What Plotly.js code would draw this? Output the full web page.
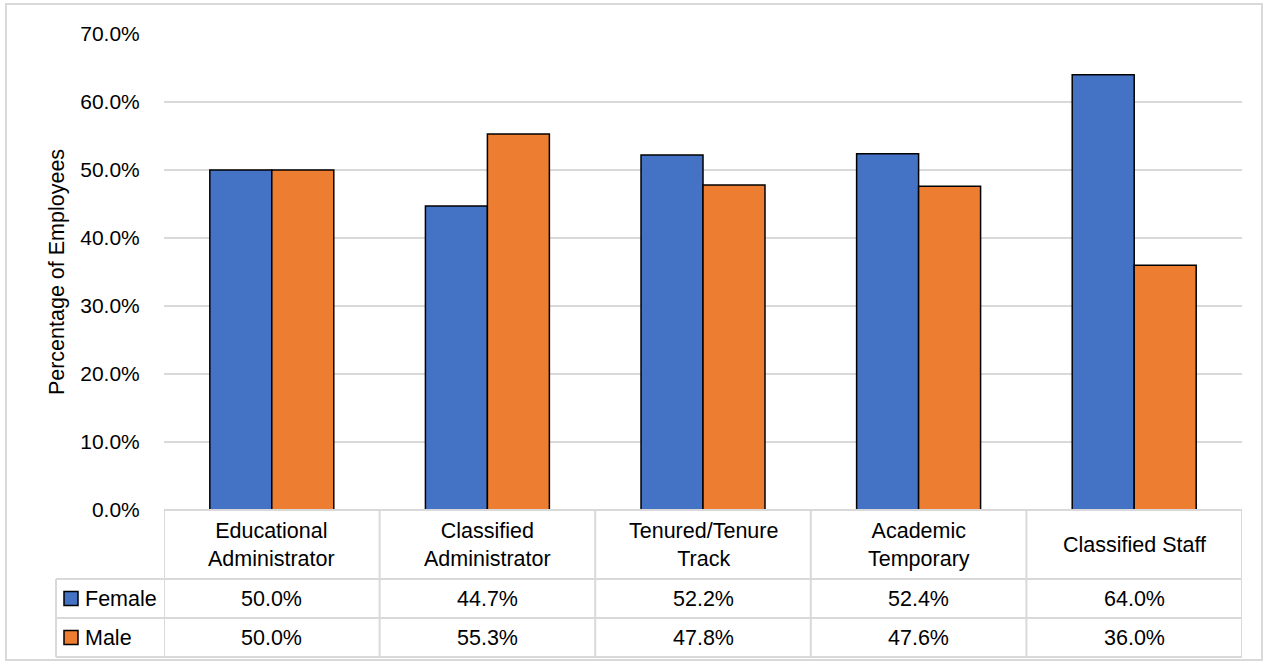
<!DOCTYPE html>
<html>
<head>
<meta charset="utf-8">
<script src="https://cdn.plot.ly/plotly-3.0.1.min.js"></script>
<style>html,body{margin:0;padding:0;background:#fff;}#chart{width:1268px;height:664px;}</style>
</head>
<body>
<div id="chart"></div>
<script>
// ---- data ----
const categories = ["Educational Administrator", "Classified Administrator", "Tenured/Tenure Track", "Academic Temporary", "Classified Staff"];
const headerLabels = ["Educational<br>Administrator", "Classified<br>Administrator", "Tenured/Tenure<br>Track", "Academic<br>Temporary", "Classified Staff"];
const seriesNames = ["Female", "Male"];
const female = [50.0, 44.7, 52.2, 52.4, 64.0];
const male = [50.0, 55.3, 47.8, 47.6, 36.0];
const yTickVals = [0, 10, 20, 30, 40, 50, 60, 70];
const yTickText = ["0.0%", "10.0%", "20.0%", "30.0%", "40.0%", "50.0%", "60.0%", "70.0%"];
const colors = ["#4472C4", "#ED7D31"];

// ---- layout geometry (pixels) ----
const W = 1268, H = 664;
const L = 164, R = 1242, T = 34, B = 510;
const px2x = p => (p - L) / (R - L);
const px2y = p => (B - p) / (B - T);
const FONT = "Liberation Sans, Arial, sans-serif";
const grid = "#d9d9d9";
const TXT = 21.5;

const rowTop = [579, 618];      // pixel tops of data rows
const rowBottom = 657;
const legendColLeft = 56;

const traces = [female, male].map((vals, i) => ({
  type: "bar",
  name: seriesNames[i],
  x: categories,
  y: vals,
  marker: { color: colors[i], line: { color: "#000", width: 1.5 } },
  showlegend: false,
  hoverinfo: "x+y+name"
}));

const shapes = [];
const annotations = [];

// outer border
shapes.push({ type: "rect", xref: "paper", yref: "paper", x0: px2x(6), x1: px2x(1262), y0: px2y(4), y1: px2y(660), line: { color: grid, width: 2 }, layer: "below" });
// header top line
shapes.push({ type: "line", xref: "paper", yref: "paper", x0: 0, x1: 1, y0: 0, y1: 0, line: { color: grid, width: 2 } });
// horizontal row lines
[rowTop[0], rowTop[1], rowBottom].forEach(py => {
  shapes.push({ type: "line", xref: "paper", yref: "paper", x0: px2x(legendColLeft), x1: 1, y0: px2y(py), y1: px2y(py), line: { color: grid, width: 2 } });
});
// legend column left edge
shapes.push({ type: "line", xref: "paper", yref: "paper", x0: px2x(legendColLeft), x1: px2x(legendColLeft), y0: px2y(rowTop[0]), y1: px2y(rowBottom), line: { color: grid, width: 2 } });
// vertical category boundaries
for (let i = 0; i <= categories.length; i++) {
  shapes.push({ type: "line", xref: "x", yref: "paper", x0: i - 0.5, x1: i - 0.5, y0: 0, y1: px2y(rowBottom), line: { color: grid, width: 2 } });
}
// header labels
categories.forEach((c, i) => {
  annotations.push({ xref: "x", yref: "paper", x: i, y: px2y((B + rowTop[0]) / 2), text: headerLabels[i], showarrow: false, xanchor: "center", yanchor: "middle", font: { family: FONT, size: TXT, color: "#000" } });
});
// data rows
[female, male].forEach((vals, r) => {
  const yc = px2y((rowTop[r] + (r === 0 ? rowTop[1] : rowBottom)) / 2);
  vals.forEach((v, i) => {
    annotations.push({ xref: "x", yref: "paper", x: i, y: yc, text: v.toFixed(1) + "%", showarrow: false, xanchor: "center", yanchor: "middle", font: { family: FONT, size: TXT, color: "#000" } });
  });
  // legend key
  shapes.push({ type: "rect", xref: "paper", yref: "paper", x0: px2x(64), x1: px2x(78), y0: yc - 7 / (B - T), y1: yc + 7 / (B - T), fillcolor: colors[r], line: { color: "#000", width: 1.5 } });
  annotations.push({ xref: "paper", yref: "paper", x: px2x(83), y: yc, text: seriesNames[r], showarrow: false, xanchor: "left", yanchor: "middle", font: { family: FONT, size: TXT, color: "#000" } });
});

const layout = {
  width: W, height: H,
  margin: { l: L, r: W - R, t: T, b: H - B, pad: 0 },
  paper_bgcolor: "#fff", plot_bgcolor: "#fff",
  font: { family: FONT, size: TXT, color: "#000" },
  barmode: "group",
  bargap: 0.425,
  bargroupgap: 0,
  xaxis: { type: "category", showticklabels: false, showgrid: false, zeroline: false, showline: false, ticks: "", range: [-0.5, 4.5] },
  yaxis: {
    range: [0, 70], tickvals: yTickVals, ticktext: yTickText,
    showgrid: true, gridcolor: grid, gridwidth: 2, zeroline: false, showline: false,
    ticks: "outside", ticklen: 19, tickcolor: "rgba(0,0,0,0)",
    tickfont: { family: FONT, size: 21, color: "#000" },
    title: { text: "Percentage of Employees", font: { family: FONT, size: 21.5, color: "#000" }, standoff: 9 }
  },
  shapes: shapes,
  annotations: annotations
};

Plotly.newPlot("chart", traces, layout, { displayModeBar: false, staticPlot: true });
</script>
</body>
</html>
